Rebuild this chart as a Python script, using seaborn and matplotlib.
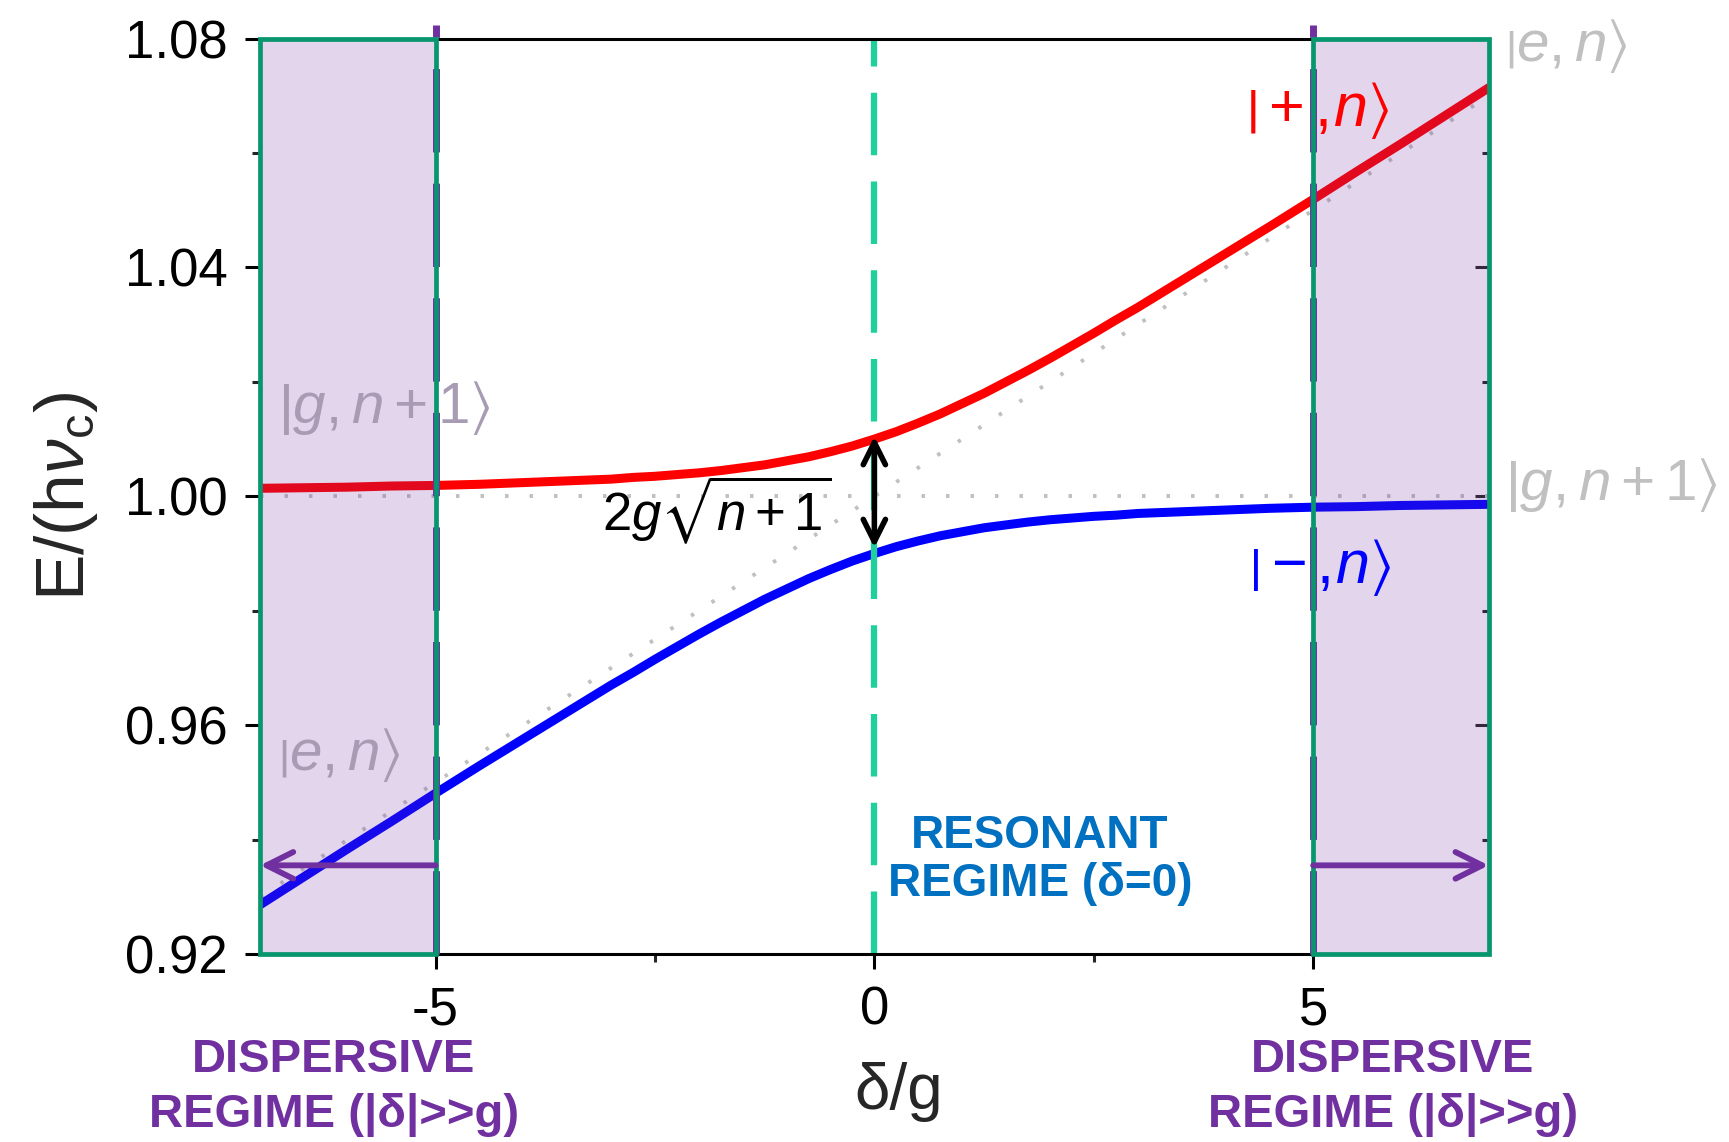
import matplotlib
matplotlib.use("Agg")
import matplotlib.pyplot as plt
from matplotlib.patches import Rectangle
import pandas as pd
import seaborn as sns

# Detuning delta/g and the two dressed-state energies E/(h nu_c)
detuning = [-7.0, -6.5, -6.0, -5.5, -5.0, -4.5, -4.0, -3.5, -3.0, -2.75, -2.5, -2.25, -2.0,
            -1.75, -1.5, -1.25, -1.0, -0.75, -0.5, -0.25, 0.0, 0.25, 0.5, 0.75, 1.0, 1.25,
            1.5, 1.75, 2.0, 2.25, 2.5, 2.75, 3.0, 3.5, 4.0, 4.5, 5.0, 5.5, 6.0, 6.5, 7.0]
upper_branch = [1.0014, 1.0015, 1.0016, 1.0018, 1.0019, 1.0021, 1.0024, 1.0027, 1.0030, 1.0033,
                1.0035, 1.0038, 1.0041, 1.0045, 1.0050, 1.0055, 1.0062, 1.0069, 1.0078, 1.0088,
                1.0100, 1.0113, 1.0128, 1.0144, 1.0162, 1.0180, 1.0200, 1.0220, 1.0241, 1.0263,
                1.0285, 1.0308, 1.0330, 1.0377, 1.0424, 1.0471, 1.0519, 1.0568, 1.0616, 1.0665,
                1.0714]
lower_branch = [0.9286, 0.9335, 0.9384, 0.9432, 0.9481, 0.9529, 0.9576, 0.9623, 0.9670, 0.9692,
                0.9715, 0.9737, 0.9759, 0.9780, 0.9800, 0.9820, 0.9838, 0.9856, 0.9872, 0.9887,
                0.9900, 0.9912, 0.9922, 0.9931, 0.9938, 0.9945, 0.9950, 0.9955, 0.9959, 0.9962,
                0.9965, 0.9967, 0.9970, 0.9973, 0.9976, 0.9979, 0.9981, 0.9982, 0.9984, 0.9985,
                0.9986]

# Uncoupled (bare) states
bare_x = [-7.0, 7.0]
bare_e = [0.93, 1.07]
bare_g = [1.00, 1.00]

# Regime boundaries and annotation levels
dispersive_edges = [-5.0, 5.0]
x_limits = [-7.0, 7.0]
y_limits = [0.92, 1.08]
resonance = 0.0
splitting = [0.9910, 1.0105]
regime_arrow_level = 0.9355

x_major = [-5, 0, 5]
x_minor = [-2.5, 2.5]
y_major = [0.92, 0.96, 1.00, 1.04, 1.08]
y_minor = [0.94, 0.98, 1.02, 1.06]
y_labels = ["0.92", "0.96", "1.00", "1.04", "1.08"]

sns.set_style("ticks")
plt.rcParams["font.family"] = ["Liberation Sans", "DejaVu Sans"]
plt.rcParams["mathtext.fontset"] = "custom"
plt.rcParams["mathtext.rm"] = "Liberation Sans"
plt.rcParams["mathtext.it"] = "Liberation Sans:italic"
plt.rcParams["mathtext.bf"] = "Liberation Sans:bold"
plt.rcParams["mathtext.fallback"] = "stixsans"

fig = plt.figure(figsize=(17.29, 11.42), dpi=100)
ax = fig.add_axes([0.1504, 0.1646, 0.7106, 0.8016])

PURPLE = "#7030a0"
EDGE_GREEN = "#07966e"
DASH_GREEN = "#1fd09c"
GREY = "#c0c0c0"

# bare states (dotted)
ax.plot(bare_x, bare_g, color=GREY, lw=2.8, ls=(0, (0.9, 5.4)), zorder=1)
ax.plot(bare_x, bare_e, color=GREY, lw=2.8, ls=(0, (0.9, 5.4)), zorder=1)

# dressed states
df = pd.DataFrame({
    "detuning": detuning * 2,
    "energy": upper_branch + lower_branch,
    "branch": ["+"] * len(detuning) + ["-"] * len(detuning),
})
sns.lineplot(data=df, x="detuning", y="energy", hue="branch",
             palette={"+": "#ff0000", "-": "#0000ff"}, lw=6.5,
             legend=False, ax=ax, zorder=2)

# resonance line
ax.axvline(resonance, color=DASH_GREEN, lw=4.5, ls=(0, (10, 4.2)), zorder=3)

# dispersive regions
for lo, hi in [(x_limits[0], dispersive_edges[0]), (dispersive_edges[1], x_limits[1])]:
    ax.axvspan(lo, hi, facecolor=PURPLE, alpha=0.2, lw=0, zorder=4)
for xe in dispersive_edges:
    ax.axvline(xe, ymin=0, ymax=1.015, color=PURPLE, lw=5.0, ls=(0, (12, 4.5)),
               zorder=5, clip_on=False)
for lo, hi in [(x_limits[0], dispersive_edges[0]), (dispersive_edges[1], x_limits[1])]:
    ax.add_patch(Rectangle((lo, y_limits[0]), hi - lo, y_limits[1] - y_limits[0],
                           fill=False, edgecolor=EDGE_GREEN, lw=3.4, zorder=6,
                           clip_on=False))

# regime arrows
for start, end in [(dispersive_edges[0], x_limits[0]), (dispersive_edges[1], x_limits[1])]:
    ax.annotate("", xy=(end, regime_arrow_level), xytext=(start, regime_arrow_level),
                arrowprops=dict(arrowstyle="->", color=PURPLE, lw=4.2,
                                mutation_scale=48, shrinkA=0, shrinkB=0), zorder=7)

# vacuum Rabi splitting arrow
ax.annotate("", xy=(resonance, splitting[0]), xytext=(resonance, splitting[1]),
            arrowprops=dict(arrowstyle="<->", color="black", lw=4,
                            mutation_scale=40, shrinkA=0, shrinkB=0), zorder=8)
ax.text(-0.48, 0.9977, r"$2g\sqrt{n+1}$", fontsize=38, ha="right", va="center",
        color="black", zorder=9)

# state labels
ax.text(4.24, 1.0675, r"$\left|+,\!n\right\rangle$", fontsize=44, color="#ff0000",
        ha="left", va="center", zorder=9)
ax.text(4.27, 0.9875, r"$\left|-,\!n\right\rangle$", fontsize=44, color="#0000ff",
        ha="left", va="center", zorder=9)
ax.text(-6.79, 1.0154, r"$\left|g,n+1\right\rangle$", fontsize=42, color="#a89cb4",
        ha="left", va="center", zorder=9)
ax.text(-6.79, 0.9547, r"$\left|e,n\right\rangle$", fontsize=42, color="#a89cb4",
        ha="left", va="center", zorder=9)
ax.text(7.19, 1.0787, r"$\left|e,n\right\rangle$", fontsize=42, color=GREY,
        ha="left", va="center", clip_on=False, zorder=9)
ax.text(7.19, 1.0019, r"$\left|g,n+1\right\rangle$", fontsize=42, color=GREY,
        ha="left", va="center", clip_on=False, zorder=9)

# regime names
ax.text(1.885, 0.9364, "RESONANT\nREGIME (δ=0)", fontsize=33, fontweight="bold",
        color="#0070c0", ha="center", va="center", linespacing=1.12, zorder=9)
ax.text(-6.16, 0.8966, "DISPERSIVE\nREGIME (|δ|>>g)", fontsize=34, fontweight="bold",
        color=PURPLE, ha="center", va="center", linespacing=1.32, clip_on=False)
ax.text(5.91, 0.8966, "DISPERSIVE\nREGIME (|δ|>>g)", fontsize=34, fontweight="bold",
        color=PURPLE, ha="center", va="center", linespacing=1.32, clip_on=False)

# axes
ax.set_xlim(x_limits)
ax.set_ylim(y_limits)
ax.set_xticks(x_major)
ax.set_xticks(x_minor, minor=True)
ax.set_xticklabels([str(v) for v in x_major])
ax.set_yticks(y_major)
ax.set_yticks(y_minor, minor=True)
ax.set_yticklabels(y_labels)
for s in ax.spines.values():
    s.set_linewidth(2.2)
    s.set_color("black")
    s.set_zorder(3.5)
ax.tick_params(axis="both", which="major", direction="out", length=11, width=2.2,
               labelsize=38, pad=12, colors="black")
ax.tick_params(axis="both", which="minor", direction="out", length=6, width=2.2)
ax.tick_params(top=False, right=False)

right = ax.secondary_yaxis("right")
right.set_yticks(y_major)
right.set_yticks(y_minor, minor=True)
right.tick_params(which="major", direction="in", length=10, width=2.2, labelright=False)
right.tick_params(which="minor", direction="in", length=5, width=2.2)
right.spines["right"].set_linewidth(2.2)

ax.set_xlabel("δ/g", fontsize=46)
ax.set_ylabel(r"E/(h$\nu_\mathrm{c}$)", fontsize=50)
ax.xaxis.set_label_coords(0.52, -0.118)
ax.yaxis.set_label_coords(-0.13, 0.5)

fig.savefig("out.png", dpi=100, facecolor="white")
